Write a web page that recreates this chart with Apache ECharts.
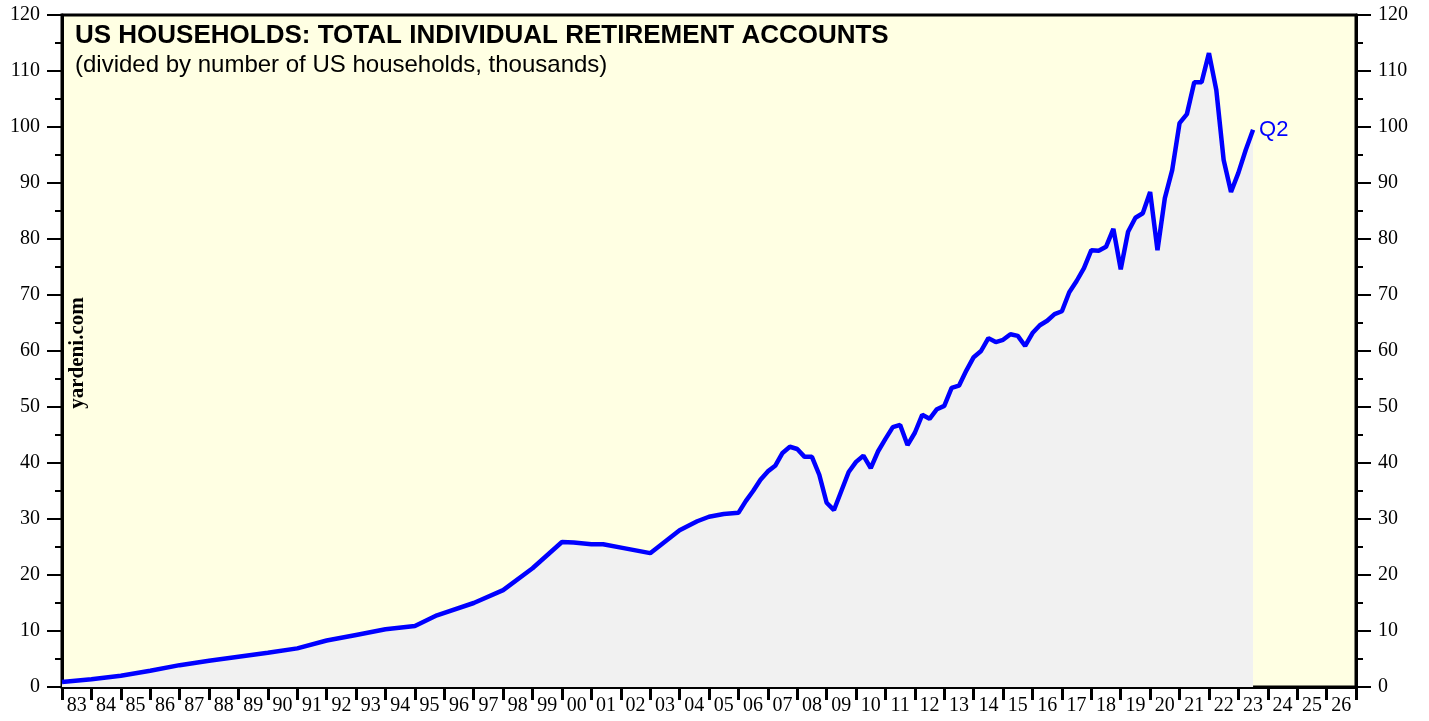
<!DOCTYPE html>
<html>
<head>
<meta charset="utf-8">
<title>US Households: Total IRAs</title>
<script src="https://cdn.jsdelivr.net/npm/echarts@6/dist/echarts.min.js"></script>
<style>
  html, body { margin: 0; padding: 0; background: #fff; }
  #chart { width: 1429px; height: 721px; }
</style>
</head>
<body>
<div id="chart"></div>
<script>
// year labels under the axis
var yearLabels = ['83','84','85','86','87','88','89','90','91','92','93','94','95','96','97','98','99',
  '00','01','02','03','04','05','06','07','08','09','10','11','12','13','14','15','16','17','18','19',
  '20','21','22','23','24','25','26'];

// fractional year of each point, and the value (thousands $ per household)
var dates = [1983, 1984, 1985, 1986, 1987, 1988, 1989, 1990, 1991, 1992, 1993, 1994, 1995,
  1995.75, 1997, 1998, 1999, 2000, 2000.4, 2001, 2001.4, 2002.1, 2003, 2004, 2004.6, 2005,
  2005.5, 2006, 2006.25, 2006.5, 2006.75, 2007, 2007.25, 2007.5, 2007.75,
  2008, 2008.25, 2008.5, 2008.75, 2009, 2009.25, 2009.5, 2009.75,
  2010, 2010.25, 2010.5, 2010.75, 2011, 2011.25, 2011.5, 2011.75,
  2012, 2012.25, 2012.5, 2012.75, 2013, 2013.25, 2013.5, 2013.75,
  2014, 2014.25, 2014.5, 2014.75, 2015, 2015.25, 2015.5, 2015.75,
  2016, 2016.25, 2016.5, 2016.75, 2017, 2017.25, 2017.5, 2017.75,
  2018, 2018.25, 2018.5, 2018.75, 2019, 2019.25, 2019.5, 2019.75,
  2020, 2020.25, 2020.5, 2020.75, 2021, 2021.25, 2021.5, 2021.75,
  2022, 2022.25, 2022.5, 2022.75, 2023, 2023.25, 2023.5];
var values = [0.9, 1.4, 2.0, 2.9, 3.9, 4.7, 5.4, 6.1, 6.9, 8.3, 9.3, 10.3, 10.9,
  12.8, 15.0, 17.3, 21.2, 25.9, 25.8, 25.5, 25.5, 24.8, 23.9, 28.0, 29.6, 30.4,
  30.9, 31.1, 33.2, 35.0, 37.0, 38.5, 39.5, 41.8, 42.9,
  42.5, 41.1, 41.1, 37.9, 32.9, 31.6, 35.0, 38.4,
  40.2, 41.3, 39.1, 42.1, 44.3, 46.4, 46.8, 43.2,
  45.4, 48.6, 47.9, 49.6, 50.2, 53.4, 53.8, 56.5,
  58.9, 60.0, 62.3, 61.6, 62.0, 63.0, 62.7, 60.9,
  63.2, 64.6, 65.4, 66.6, 67.1, 70.5, 72.5, 74.8,
  78.0, 77.9, 78.6, 81.8, 74.6, 81.3, 83.8, 84.6,
  88.4, 78.0, 87.3, 92.3, 100.7, 102.3, 108.0, 108.0,
  113.2, 106.6, 94.1, 88.4, 91.8, 95.9, 99.5];

var yTicks = { min: 0, max: 120, interval: 10 };

var seriesData = [];
for (var i = 0; i < dates.length; i++) {
  seriesData.push([dates[i], values[i]]);
}

var serif = 'Liberation Serif';
var sans = 'Liberation Sans';

function yAxisDef(pos) {
  return {
    type: 'value',
    position: pos,
    min: yTicks.min,
    max: yTicks.max,
    interval: yTicks.interval,
    axisLine: { show: true, lineStyle: { color: '#000', width: 3 } },
    axisTick: { show: true, length: 15, lineStyle: { color: '#000', width: 2 } },
    minorTick: { show: true, splitNumber: 2, length: 7, lineStyle: { color: '#000', width: 2 } },
    axisLabel: { color: '#000', fontFamily: serif, fontSize: 20, margin: 22 },
    splitLine: { show: false }
  };
}

var chart = echarts.init(document.getElementById('chart'));
chart.setOption({
  backgroundColor: '#fff',
  animation: false,
  grid: {
    left: 62, right: 73, top: 15, bottom: 34,
    show: true,
    backgroundColor: '#FFFFE3',
    borderColor: '#000',
    borderWidth: 3
  },
  xAxis: [
    {
      type: 'category',
      data: yearLabels,
      boundaryGap: true,
      axisLine: { show: true, lineStyle: { color: '#000', width: 3 } },
      axisTick: { show: true, interval: 0, length: 13, lineStyle: { color: '#000', width: 3 } },
      axisLabel: { interval: 0, color: '#000', fontFamily: serif, fontSize: 20, margin: 9 },
      splitLine: { show: false }
    },
    {
      type: 'value',
      min: 1983,
      max: 2027,
      show: false
    }
  ],
  yAxis: [yAxisDef('left'), yAxisDef('right')],
  series: [{
    type: 'line',
    xAxisIndex: 1,
    yAxisIndex: 0,
    data: seriesData,
    showSymbol: false,
    lineStyle: { color: '#0000FF', width: 4.5 },
    itemStyle: { color: '#0000FF' },
    areaStyle: { color: '#F1F1F1', opacity: 1 },
    endLabel: {
      show: true,
      formatter: 'Q2',
      color: '#0000FF',
      fontFamily: sans,
      fontSize: 22,
      distance: 6
    }
  }],
  graphic: [
    {
      type: 'text', left: 75, top: 23,
      style: { text: 'US HOUSEHOLDS: TOTAL INDIVIDUAL RETIREMENT ACCOUNTS', fill: '#000',
        font: 'bold 26px "Liberation Sans"' }
    },
    {
      type: 'text', left: 75, top: 53,
      style: { text: '(divided by number of US households, thousands)', fill: '#000',
        font: '24px "Liberation Sans"' }
    },
    {
      type: 'text', x: 78, y: 353, rotation: Math.PI / 2,
      style: { text: 'yardeni.com', fill: '#000', font: 'bold 21px "Liberation Serif"',
        align: 'center', verticalAlign: 'middle' }
    }
  ]
});
</script>
</body>
</html>
